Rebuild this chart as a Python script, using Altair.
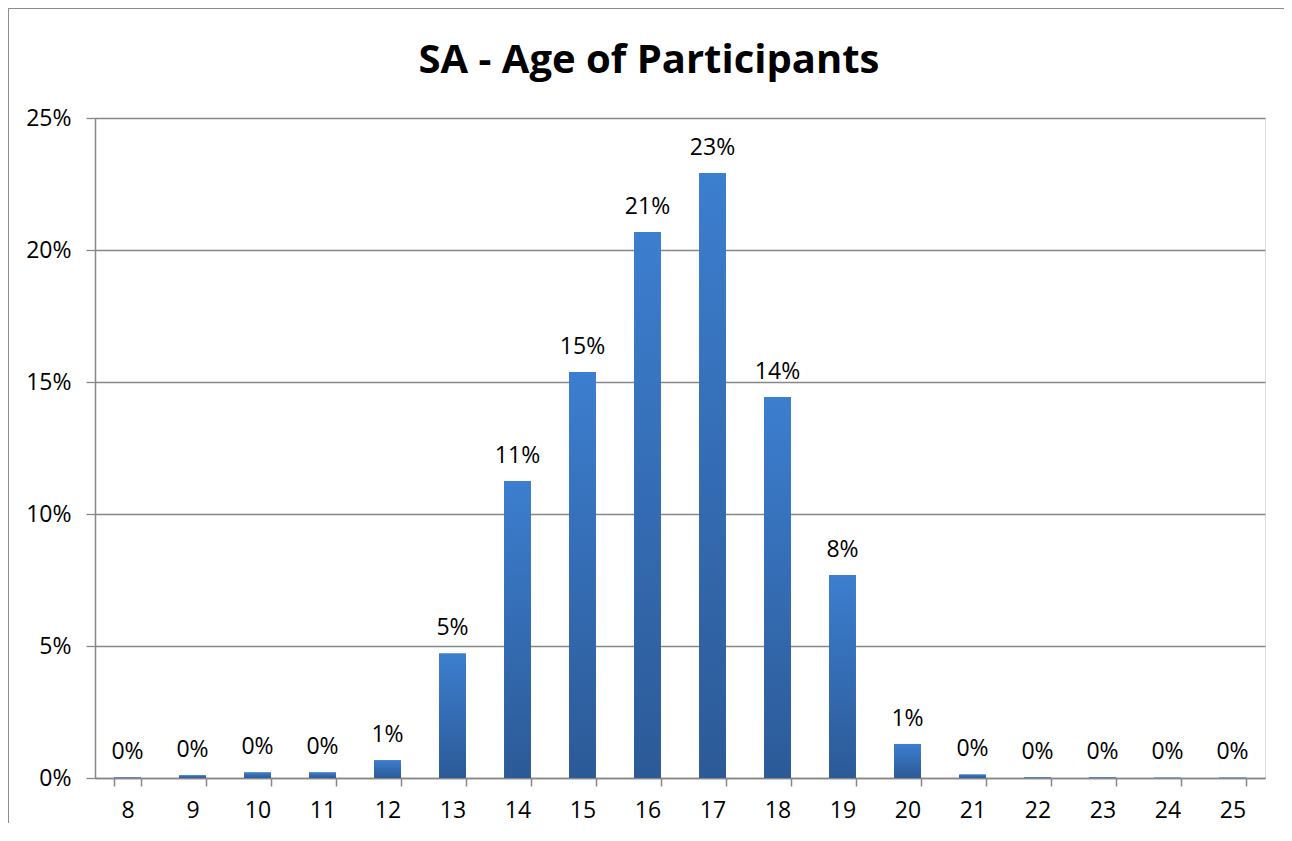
import altair as alt
import pandas as pd

ages = ["8", "9", "10", "11", "12", "13", "14", "15", "16", "17", "18", "19", "20", "21", "22", "23", "24", "25"]
share = [0.0003, 0.0011, 0.0022, 0.0022, 0.0068, 0.0473, 0.1125, 0.1538, 0.2068, 0.2292, 0.1443, 0.0769, 0.0129, 0.0014, 0.0003, 0.0003, 0.0002, 0.0002]
y_ticks = [0, 0.05, 0.10, 0.15, 0.20, 0.25]
title_text = "SA - Age of Participants"

df = pd.DataFrame({"age": ages, "pct": share})

FONT = "Open Sans"
GRAY = "#878787"
FS = 23

x_enc = alt.X(
    "age:N",
    sort=ages,
    scale=alt.Scale(paddingInner=0.585, paddingOuter=0.2925),
    axis=alt.Axis(
        title=None,
        labelAngle=0,
        labelFontSize=FS,
        labelColor="black",
        labelFont=FONT,
        labelPadding=13,
        tickBand="extent",
        tickSize=8,
        tickColor=GRAY,
        tickWidth=1.5,
        domainColor=GRAY,
        domainWidth=1.5,
        grid=False,
    ),
)
y_enc = alt.Y(
    "pct:Q",
    scale=alt.Scale(domain=[0, 0.25], nice=False),
    axis=alt.Axis(
        title=None,
        values=y_ticks,
        format=".0%",
        labelFontSize=FS,
        labelColor="black",
        labelFont=FONT,
        labelPadding=15,
        tickSize=9,
        tickColor=GRAY,
        tickWidth=1.3,
        domainColor=GRAY,
        domainWidth=1.5,
        grid=True,
        gridColor=GRAY,
        gridWidth=1.3,
    ),
)

base = alt.Chart(df)

bars = base.mark_bar(
    color=alt.Gradient(
        gradient="linear",
        x1=0, x2=0, y1=0, y2=1,
        stops=[
            alt.GradientStop(color="#3c7ecf", offset=0),
            alt.GradientStop(color="#2c5a97", offset=1),
        ],
    )
).encode(x=x_enc, y=y_enc)

labels = base.mark_text(
    dy=-18, baseline="alphabetic", fontSize=FS, font=FONT, color="black"
).encode(x=x_enc, y=y_enc, text=alt.Text("pct:Q", format=".0%"))

one = pd.DataFrame({"a": [0]})

title = alt.Chart(one).mark_text(
    fontSize=40, fontWeight="bold", font=FONT, color="black", baseline="alphabetic", align="center"
).encode(x=alt.value(554), y=alt.value(-45), text=alt.value(title_text))

left_border = alt.Chart(one).mark_rule(color="#8c8c8c", strokeWidth=2).encode(
    x=alt.value(-87), y=alt.value(-110), y2=alt.value(720)
)
top_border = alt.Chart(one).mark_rule(color="#8c8c8c", strokeWidth=2).encode(
    x=alt.value(-87), x2=alt.value(1189), y=alt.value(-110)
)

chart = alt.layer(bars, labels, title, left_border, top_border).properties(
    width=1170,
    height=660,
    autosize=alt.AutoSizeParams(type="none"),
    padding={"left": 87, "top": 110, "right": 19, "bottom": 45},
).configure_view(stroke=None).configure(font=FONT)

chart.save("out.html", embed_options={"renderer": "svg", "actions": False})
